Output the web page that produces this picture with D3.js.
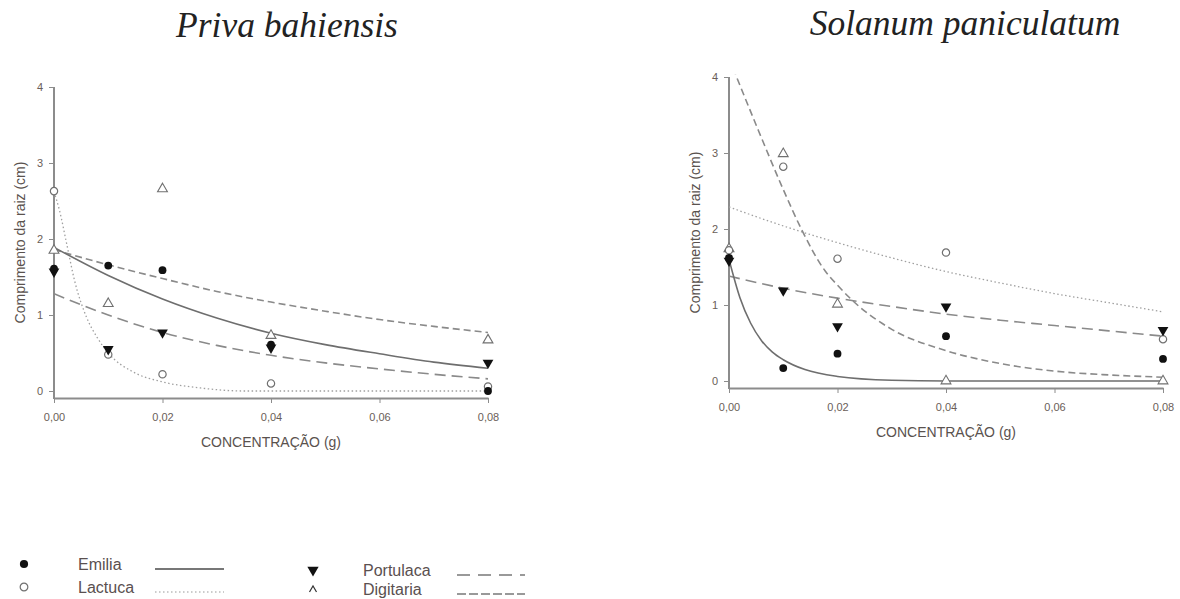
<!DOCTYPE html>
<html>
<head>
<meta charset="utf-8">
<script src="https://cdn.jsdelivr.net/npm/d3@7"></script>
<style>
  body { margin: 0; background: #fff; }
  svg { display: block; font-family: Arial, "Liberation Sans", sans-serif; }
  .title { font-family: "Liberation Serif", "DejaVu Serif", serif; font-style: italic; font-size: 35.5px; fill: #222; }
  .tick text { font-size: 11px; fill: #6a5e58; }
  .tick line { stroke: #8c8c8c; }
  .domain { stroke: #8c8c8c; stroke-width: 2; }
  .axis-label { font-size: 14px; fill: #5a524e; }
  .legend text { font-size: 16px; fill: #5a5050; }
</style>
</head>
<body>
<svg id="chart" width="1180" height="599"></svg>
<script>
// concentrations tested (g) and axis ticks
const concentrations = [0, 0.01, 0.02, 0.04, 0.08];
const xTicks = [0, 0.02, 0.04, 0.06, 0.08];
const yTicks = [0, 1, 2, 3, 4];
const fitGrid = [0, 0.01, 0.02, 0.03, 0.04, 0.05, 0.06, 0.07, 0.08];

// Priva bahiensis - observed root length (cm)
const privaEmilia = [1.61, 1.65, 1.59, 0.61, 0.0];
const privaLactuca = [2.63, 0.48, 0.22, 0.10, 0.06];
const privaPortulaca = [1.57, 0.55, 0.77, 0.57, 0.37];
const privaDigitaria = [1.85, 1.15, 2.66, 0.73, 0.67];

// Priva bahiensis - fitted curves
const privaEmiliaFit = [1.89, 1.52, 1.21, 0.96, 0.76, 0.61, 0.49, 0.38, 0.30];
const privaPortulacaFit = [1.28, 1.0, 0.77, 0.60, 0.47, 0.37, 0.29, 0.22, 0.16];
const privaDigitariaFit = [1.86, 1.66, 1.48, 1.31, 1.17, 1.05, 0.94, 0.85, 0.77];
const privaLactucaFitX = [0, 0.001, 0.0023, 0.0038, 0.006, 0.008, 0.01, 0.0146, 0.02, 0.027, 0.035, 0.05, 0.08];
const privaLactucaFit = [2.62, 2.38, 1.95, 1.45, 0.97, 0.70, 0.50, 0.25, 0.12, 0.04, 0.0, 0.0, 0.0];

// Solanum paniculatum - observed root length (cm)
const solEmilia = [1.62, 0.17, 0.36, 0.59, 0.29];
const solLactuca = [1.72, 2.82, 1.61, 1.69, 0.55];
const solPortulaca = [1.58, 1.19, 0.72, 0.98, 0.67];
const solDigitaria = [1.74, 2.99, 1.01, 0.0, 0.0];

// Solanum paniculatum - fitted curves
const solLactucaFit = [2.29, 2.04, 1.82, 1.62, 1.44, 1.29, 1.15, 1.03, 0.91];
const solPortulacaFit = [1.38, 1.22, 1.09, 0.98, 0.88, 0.80, 0.73, 0.66, 0.59];
const solEmiliaFitX = [0, 0.002, 0.004, 0.006, 0.008, 0.01, 0.014, 0.02, 0.03, 0.04, 0.06, 0.08];
const solEmiliaFit = [1.60, 1.10, 0.76, 0.53, 0.38, 0.28, 0.15, 0.06, 0.01, 0, 0, 0];
const solDigitariaFitX = [0, 0.0014, 0.0054, 0.01, 0.0134, 0.0177, 0.02, 0.0226, 0.03, 0.04, 0.05, 0.06, 0.07, 0.08];
const solDigitariaFit = [4.25, 4.0, 3.3, 2.52, 1.99, 1.45, 1.26, 1.07, 0.68, 0.40, 0.23, 0.13, 0.08, 0.05];

const species = ["Emilia", "Lactuca", "Portulaca", "Digitaria"];

const lineStyle = {
    Emilia: { dash: null, color: "#6e6e6e", width: 1.6 },
    Lactuca: { dash: "1.5,2.5", color: "#a0a0a0", width: 1.3 },
    Portulaca: { dash: "11,6", color: "#8a8a8a", width: 1.6 },
    Digitaria: { dash: "7,4", color: "#8a8a8a", width: 1.6 }
};

const svg = d3.select("#chart");
const fmt = d => d3.format(".2f")(d).replace(".", ",");

// draws a marker for a species centred on the current origin of `sel`
function drawMarker(sel, name, scale) {
    const s = scale || 1;
    if (name === "Emilia") {
        sel.append("path").attr("d", d3.symbol(d3.symbolCircle, 48 * s)())
            .attr("fill", "#111");
    } else if (name === "Lactuca") {
        sel.append("path").attr("d", d3.symbol(d3.symbolCircle, 42 * s)())
            .attr("fill", "#fff").attr("stroke", "#707070").attr("stroke-width", 1.2);
    } else if (name === "Portulaca") {
        sel.append("path").attr("d", d3.symbol(d3.symbolTriangle, 50 * s)())
            .attr("transform", "rotate(180)")
            .attr("fill", "#111");
    } else {
        sel.append("path").attr("d", d3.symbol(d3.symbolTriangle, 42 * s)())
            .attr("fill", "#fff").attr("stroke", "#707070").attr("stroke-width", 1.1);
    }
}

function drawPanel(p) {
    const x = d3.scaleLinear().domain([0, 0.08]).range([p.left, p.left + 434]);
    const y = d3.scaleLinear().domain([0, 4]).range([p.zero, p.zero - 304]);
    const axisY = p.zero + 7;
    const g = svg.append("g");

    // title
    g.append("text").attr("class", "title")
        .attr("x", p.titleX).attr("y", p.titleY)
        .attr("text-anchor", "middle")
        .text(p.title);

    // clip so curves stay inside the frame
    const clipId = "clip-" + p.id;
    svg.append("clipPath").attr("id", clipId)
        .append("rect")
        .attr("x", x(0)).attr("y", y(4.03))
        .attr("width", x(0.08) - x(0) + 6)
        .attr("height", y(-0.08) - y(4.03));

    // axes
    const xAxis = d3.axisBottom(x).tickValues(xTicks).tickFormat(fmt)
        .tickSize(5).tickSizeOuter(0).tickPadding(10);
    g.append("g").attr("transform", `translate(0,${axisY})`).call(xAxis);

    const yAxis = d3.axisLeft(y).tickValues(yTicks).tickFormat(d3.format("d"))
        .tickSize(5).tickPadding(6);
    const yg = g.append("g").attr("transform", `translate(${x(0)},0)`).call(yAxis);
    yg.select(".domain").remove();
    yg.append("line")
        .attr("x1", 0).attr("x2", 0)
        .attr("y1", y(4)).attr("y2", axisY + 1)
        .attr("stroke", "#8c8c8c").attr("stroke-width", 2);

    // axis titles
    g.append("text").attr("class", "axis-label")
        .attr("x", (x(0) + x(0.08)) / 2).attr("y", axisY + 49)
        .attr("text-anchor", "middle")
        .text("CONCENTRAÇÃO (g)");
    g.append("text").attr("class", "axis-label")
        .attr("transform", `translate(${x(0) - 34},${(y(4) + axisY) / 2}) rotate(-90)`)
        .attr("text-anchor", "middle")
        .attr("dominant-baseline", "central")
        .text("Comprimento da raiz (cm)");

    // fitted curves
    const line = d3.line()
        .x(d => x(d[0]))
        .y(d => y(d[1]))
        .curve(d3.curveMonotoneX);
    const curves = g.append("g").attr("clip-path", `url(#${clipId})`);
    p.fits.forEach(f => {
        const st = lineStyle[f.name];
        curves.append("path")
            .datum(d3.zip(f.xs, f.ys))
            .attr("d", line)
            .attr("fill", "none")
            .attr("stroke", st.color)
            .attr("stroke-width", st.width)
            .attr("stroke-dasharray", st.dash);
    });

    // observed points
    p.points.forEach(s => {
        s.values.forEach((v, i) => {
            const m = g.append("g")
                .attr("transform", `translate(${x(concentrations[i])},${y(v)})`);
            drawMarker(m, s.name);
        });
    });
}

drawPanel({
    id: "priva", title: "Priva bahiensis", titleX: 287, titleY: 37,
    left: 54, zero: 391,
    fits: [
        { name: "Lactuca", xs: privaLactucaFitX, ys: privaLactucaFit },
        { name: "Digitaria", xs: fitGrid, ys: privaDigitariaFit },
        { name: "Portulaca", xs: fitGrid, ys: privaPortulacaFit },
        { name: "Emilia", xs: fitGrid, ys: privaEmiliaFit }
    ],
    points: [
        { name: "Digitaria", values: privaDigitaria },
        { name: "Lactuca", values: privaLactuca },
        { name: "Portulaca", values: privaPortulaca },
        { name: "Emilia", values: privaEmilia }
    ]
});

drawPanel({
    id: "solanum", title: "Solanum paniculatum", titleX: 965, titleY: 35,
    left: 729, zero: 381,
    fits: [
        { name: "Lactuca", xs: fitGrid, ys: solLactucaFit },
        { name: "Digitaria", xs: solDigitariaFitX, ys: solDigitariaFit },
        { name: "Portulaca", xs: fitGrid, ys: solPortulacaFit },
        { name: "Emilia", xs: solEmiliaFitX, ys: solEmiliaFit }
    ],
    points: [
        { name: "Digitaria", values: solDigitaria },
        { name: "Lactuca", values: solLactuca },
        { name: "Portulaca", values: solPortulaca },
        { name: "Emilia", values: solEmilia }
    ]
});

// legend: two columns of two entries
const legendCols = [
    { marker: 24, text: 78, x1: 155, x2: 224, rows: [564, 587] },
    { marker: 313, text: 363, x1: 457, x2: 525, rows: [570, 589] }
];
const legend = svg.append("g").attr("class", "legend");
species.forEach((name, i) => {
    const col = legendCols[Math.floor(i / 2)];
    const yy = col.rows[i % 2];
    const st = lineStyle[name];
    const m = legend.append("g").attr("transform", `translate(${col.marker},${yy})`);
    if (name === "Digitaria") {
        m.append("path").attr("d", "M-3.5,3 L0,-3 L3.5,3")
            .attr("fill", "none").attr("stroke", "#333").attr("stroke-width", 1.2);
    } else {
        drawMarker(m, name, 1.1);
    }
    legend.append("text")
        .attr("x", col.text).attr("y", yy)
        .attr("dominant-baseline", "central")
        .text(name);
    legend.append("line")
        .attr("x1", col.x1).attr("x2", col.x2)
        .attr("y1", yy + 5).attr("y2", yy + 5)
        .attr("stroke", name === "Emilia" ? "#777" : "#999")
        .attr("stroke-width", name === "Lactuca" ? 1.2 : 1.8)
        .attr("stroke-dasharray", name === "Portulaca" ? "13,8" : name === "Digitaria" ? "9,3" : st.dash);
});
</script>
</body>
</html>
